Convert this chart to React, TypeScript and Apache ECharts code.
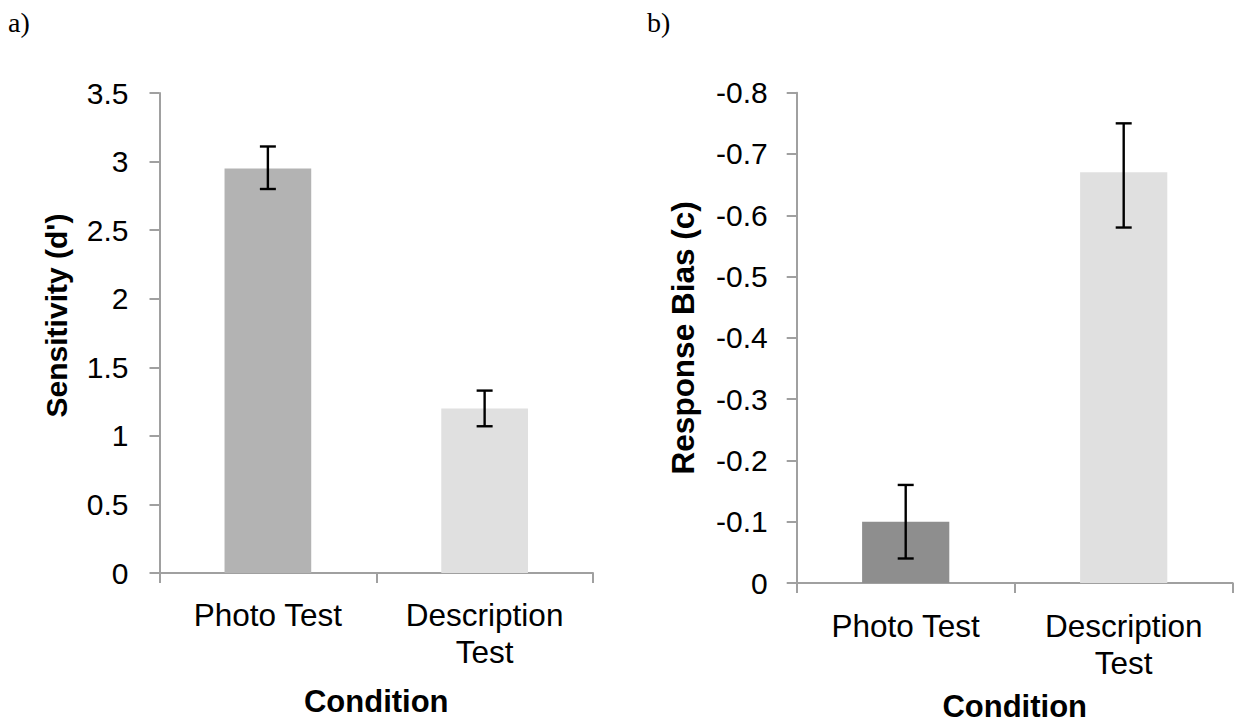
import React, { useEffect, useRef } from "react";
import * as echarts from "echarts";

const categories = ["Photo Test", "Description\nTest"];

const sensitivity = [2.95, 1.2];
const sensitivityLow = [2.8, 1.07];
const sensitivityHigh = [3.11, 1.33];

const bias = [-0.1, -0.67];
const biasLow = [-0.04, -0.58];
const biasHigh = [-0.16, -0.75];

const leftTicks = { min: 0, max: 3.5, interval: 0.5 };
const rightTicks = { min: -0.8, max: 0, interval: 0.1 };

const FONT = "'Liberation Sans', Arial, sans-serif";
const SERIF = "'Liberation Serif', 'Times New Roman', serif";

function errorRender(params: any, api: any) {
  const x = api.value(0);
  const lo = api.coord([x, api.value(1)]);
  const hi = api.coord([x, api.value(2)]);
  const half = 8;
  const style = { stroke: "#000", lineWidth: 2.4 };
  return {
    type: "group",
    children: [
      { type: "line", shape: { x1: lo[0], y1: lo[1], x2: hi[0], y2: hi[1] }, style },
      { type: "line", shape: { x1: lo[0] - half, y1: lo[1], x2: lo[0] + half, y2: lo[1] }, style },
      { type: "line", shape: { x1: hi[0] - half, y1: hi[1], x2: hi[0] + half, y2: hi[1] }, style },
    ],
  };
}

export default function App() {
  const ref = useRef<HTMLDivElement>(null);
  useEffect(() => {
    document.body.style.margin = "0";
    const chart = echarts.init(ref.current!, null, { renderer: "svg" });
    const axisLine = { show: true, lineStyle: { color: "#a0a0a0", width: 2 } };
    const axisTick = { show: true, length: 10, lineStyle: { color: "#a0a0a0", width: 2 } };
    const tickLabel = { color: "#000", fontSize: 30, fontFamily: FONT };
    const catLabel = { color: "#000", fontSize: 31.5, fontFamily: FONT, lineHeight: 37 };
    const nameStyle = { color: "#000", fontSize: 31, fontWeight: "bold" as const, fontFamily: FONT };
    const leftColors = ["#b3b3b3", "#e0e0e0"];
    const rightColors = ["#8e8e8e", "#e0e0e0"];

    chart.setOption({
      animation: false,
      backgroundColor: "#fff",
      grid: [
        { left: 159.5, top: 93, width: 433.5, height: 480 },
        { left: 796.7, top: 92.7, width: 436, height: 491.3 },
      ],
      xAxis: [
        {
          type: "category",
          gridIndex: 0,
          data: categories,
          axisLine,
          axisTick: { ...axisTick, alignWithLabel: false },
          axisLabel: { ...catLabel, margin: 23 },
          name: "Condition",
          nameLocation: "middle",
          nameGap: 113,
          nameTextStyle: nameStyle,
        },
        {
          type: "category",
          gridIndex: 1,
          data: categories,
          axisLine,
          axisTick: { ...axisTick, alignWithLabel: false },
          axisLabel: { ...catLabel, margin: 24 },
          name: "Condition",
          nameLocation: "middle",
          nameGap: 108,
          nameTextStyle: nameStyle,
        },
      ],
      yAxis: [
        {
          type: "value",
          gridIndex: 0,
          min: leftTicks.min,
          max: leftTicks.max,
          interval: leftTicks.interval,
          axisLine,
          axisTick,
          splitLine: { show: false },
          axisLabel: { ...tickLabel, margin: 31 },
          name: "Sensitivity (d')",
          nameLocation: "middle",
          nameGap: 88,
          nameTextStyle: { ...nameStyle, fontSize: 30, padding: [0, 0, 0, 35] },
        },
        {
          type: "value",
          gridIndex: 1,
          min: rightTicks.min,
          max: rightTicks.max,
          interval: rightTicks.interval,
          inverse: true,
          axisLine,
          axisTick,
          splitLine: { show: false },
          axisLabel: { ...tickLabel, margin: 29 },
          name: "Response Bias (c)",
          nameLocation: "middle",
          nameGap: 98,
          nameTextStyle: { ...nameStyle, fontSize: 31.5 },
        },
      ],
      series: [
        {
          type: "bar",
          xAxisIndex: 0,
          yAxisIndex: 0,
          barCategoryGap: "60%",
          data: sensitivity.map((v, i) => ({ value: v, itemStyle: { color: leftColors[i] } })),
        },
        {
          type: "custom",
          xAxisIndex: 0,
          yAxisIndex: 0,
          renderItem: errorRender,
          encode: { x: 0, y: [1, 2] },
          data: categories.map((_, i) => [i, sensitivityLow[i], sensitivityHigh[i]]),
          z: 5,
        },
        {
          type: "bar",
          xAxisIndex: 1,
          yAxisIndex: 1,
          barCategoryGap: "60%",
          data: bias.map((v, i) => ({ value: v, itemStyle: { color: rightColors[i] } })),
        },
        {
          type: "custom",
          xAxisIndex: 1,
          yAxisIndex: 1,
          renderItem: errorRender,
          encode: { x: 0, y: [1, 2] },
          data: categories.map((_, i) => [i, biasLow[i], biasHigh[i]]),
          z: 5,
        },
      ],
      graphic: [
        {
          type: "text",
          x: 8,
          y: 22,
          style: { text: "a)", fontSize: 28, fontFamily: SERIF, fill: "#000", verticalAlign: "middle", align: "left" },
        },
        {
          type: "text",
          x: 647,
          y: 22,
          style: { text: "b)", fontSize: 28, fontFamily: SERIF, fill: "#000", verticalAlign: "middle", align: "left" },
        },
      ],
    });
    return () => chart.dispose();
  }, []);
  return <div ref={ref} style={{ width: 1235, height: 727 }} />;
}
